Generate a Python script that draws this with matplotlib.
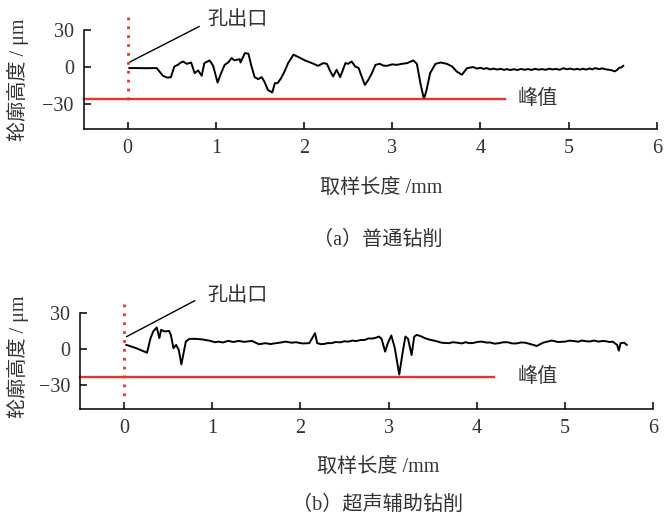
import numpy as np
import matplotlib
matplotlib.use("Agg")
import matplotlib.pyplot as plt

plt.rcParams['font.family'] = ['Liberation Serif', 'Noto Sans CJK SC']
plt.rcParams['axes.unicode_minus'] = True

# (a) conventional drilling profile, x in mm, height in um
x_a = [0.02, 0.10, 0.20, 0.33, 0.36, 0.40, 0.45, 0.49, 0.53, 0.57, 0.60, 0.63, 0.67,
       0.72, 0.76, 0.80, 0.84, 0.87, 0.93, 0.97, 1.02, 1.06, 1.10, 1.14, 1.18, 1.21,
       1.27, 1.28, 1.33, 1.37, 1.40, 1.44, 1.48, 1.52, 1.55, 1.59, 1.64, 1.67, 1.70,
       1.74, 1.78, 1.82, 1.88, 1.94, 2.01, 2.09, 2.16, 2.22, 2.26, 2.29, 2.33, 2.37,
       2.41, 2.47, 2.50, 2.54, 2.58, 2.62, 2.64, 2.69, 2.73, 2.77, 2.81, 2.86, 2.90,
       2.94, 3.00, 3.05, 3.11, 3.17, 3.24, 3.28, 3.32, 3.36, 3.39, 3.43, 3.49, 3.55,
       3.62, 3.68, 3.73, 3.79, 3.85, 3.92, 3.96, 4.00, 4.04, 4.07, 4.11, 4.15, 4.19,
       4.23, 4.27, 4.30, 4.34, 4.38, 4.42, 4.46, 4.50, 4.54, 4.58, 4.62, 4.66, 4.70,
       4.74, 4.78, 4.82, 4.86, 4.90, 4.94, 4.98, 5.02, 5.06, 5.10, 5.13, 5.16, 5.20,
       5.24, 5.27, 5.30, 5.35, 5.38, 5.42, 5.46, 5.49, 5.52, 5.55, 5.57, 5.60, 5.62]
y_a = [-0.8, -0.8, -0.9, -0.8, -3.5, -7.0, -8.5, -8.2, 0.5, 1.8, 3.5, 4.5, 2.6,
       3.7, -4.9, -2.7, -7.0, 3.2, 5.4, 1.0, -12.5, -4.9, 1.8, 3.7, 7.3, 5.4,
       6.4, 3.7, 11.3, 10.8, 1.8, -8.1, -9.7, -8.1, -11.6, -18.4, -20.5, -13.0, -13.0,
       -9.0, -3.5, 3.2, 10.0, 8.0, 5.4, 3.2, 1.0, 3.2, 2.6, -2.2, -7.6, -2.2,
       -8.1, 3.2, 2.6, 4.5, 0.5, -0.8, -4.9, -14.4, -10.3, -4.9, 1.8, 2.6, 1.2,
       1.0, 2.2, 1.8, 2.6, 3.2, 5.4, 2.6, -13.0, -26.0, -18.4, -4.9, 2.6, 3.7,
       2.6, 0.5, -3.5, -6.2, -0.8, 0.0, -1.2, -0.6, -1.5, -0.8, -1.9, -1.2, -2.0,
       -1.4, -2.3, -1.6, -2.4, -1.7, -2.4, -1.5, -2.2, -1.6, -2.3, -1.4, -2.1, -1.6,
       -2.2, -1.3, -1.9, -1.5, -2.2, -0.9, -1.8, -1.2, -2.0, -1.4, -2.1, -1.3, -2.0,
       -1.1, -1.9, -0.8, -1.7, -1.0, -1.8, -2.2, -2.6, -3.5, -2.4, -0.8, -0.2, 1.0]

# (b) ultrasonic assisted drilling profile
x_b = [0.025, 0.14, 0.26, 0.30, 0.33, 0.37, 0.40, 0.42, 0.46, 0.51, 0.53, 0.56, 0.59,
       0.62, 0.65, 0.67, 0.70, 0.74, 0.81, 0.89, 0.98, 1.03, 1.07, 1.12, 1.18, 1.24,
       1.30, 1.36, 1.45, 1.53, 1.60, 1.66, 1.72, 1.78, 1.83, 1.90, 1.95, 2.02, 2.10,
       2.165, 2.19, 2.23, 2.27, 2.31, 2.35, 2.40, 2.45, 2.50, 2.54, 2.59, 2.63, 2.68,
       2.73, 2.77, 2.81, 2.85, 2.89, 2.92, 2.96, 2.99, 3.03, 3.07, 3.12, 3.16, 3.19,
       3.22, 3.26, 3.29, 3.32, 3.37, 3.41, 3.47, 3.53, 3.60, 3.68, 3.73, 3.78, 3.83,
       3.87, 3.92, 3.96, 4.01, 4.06, 4.11, 4.15, 4.20, 4.25, 4.30, 4.35, 4.40, 4.45,
       4.50, 4.55, 4.62, 4.68, 4.75, 4.85, 4.92, 5.00, 5.05, 5.10, 5.15, 5.19, 5.24,
       5.28, 5.33, 5.38, 5.42, 5.46, 5.50, 5.54, 5.59, 5.61, 5.63, 5.67, 5.70]
y_b = [3.4, 0.6, -3.1, 9.0, 14.5, 17.9, 9.0, 15.9, 14.5, 15.0, 11.7, 0.6, 3.4,
       -0.8, -12.8, -5.0, 6.1, 8.4, 8.4, 7.9, 6.7, 5.6, 6.1, 5.4, 6.7, 5.8,
       6.7, 5.9, 6.7, 3.9, 4.8, 4.1, 4.8, 5.4, 6.1, 5.2, 5.6, 4.6, 4.8,
       13.1, 4.8, 4.0, 4.2, 4.9, 4.8, 5.8, 5.5, 6.4, 6.1, 7.0, 6.5, 7.4,
       7.5, 8.8, 8.6, 9.2, 10.3, 8.4, -2.2, 4.8, 11.2, 0.6, -21.2, -2.2, 10.3,
       8.4, -5.0, 10.3, 11.7, 10.4, 9.0, 7.6, 6.7, 5.2, 4.8, 5.6, 5.2, 4.6,
       5.6, 4.8, 5.0, 5.9, 6.1, 5.3, 5.4, 4.4, 4.8, 5.6, 5.6, 4.6, 4.6,
       5.4, 5.2, 3.8, 2.5, 5.2, 7.0, 5.8, 6.1, 6.9, 6.6, 6.0, 7.0, 6.4,
       6.2, 7.0, 6.1, 6.6, 6.5, 5.8, 6.1, 3.4, -1.4, 4.8, 5.2, 3.4]

peak_a = -26.0
peak_b = -23.2
x_ticks = [0, 1, 2, 3, 4, 5, 6]
y_ticks = [-30, 0, 30]

red = "#e8342e"
txt = "#333333"

fig = plt.figure(figsize=(6.65, 5.16), dpi=100)
ax_a = fig.add_axes([0.1256, 0.750, 0.862, 0.192])
ax_b = fig.add_axes([0.1203, 0.2068, 0.862, 0.187])


def style_axis(ax):
    ax.spines["top"].set_visible(False)  # no frame on top
    ax.spines["right"].set_visible(False)  # no frame on the right
    for s in ["left", "bottom"]:
        ax.spines[s].set_linewidth(1.1)
    ax.set_xlim(-0.5, 6)
    ax.set_ylim(-50, 30)
    ax.set_xticks(x_ticks)
    ax.set_yticks(y_ticks)
    ax.tick_params(direction="in", length=5, width=1.1, pad=7,
                   labelsize=14.5, labelcolor=txt)


def draw_panel(ax, xs, ys, peak, peak_end, vtop, vbot, ann, note_xy, peak_x):
    style_axis(ax)
    ax.plot(xs, ys, color="black", lw=1.4, solid_joinstyle="round")
    ax.plot([-0.5, peak_end], [peak, peak], color=red, lw=1.7, clip_on=False)
    ax.plot([0, 0], [vtop, vbot], color=red, lw=2, linestyle=(0, (1, 2.2)),
            clip_on=False)
    ax.plot(ann[0], ann[1], color="black", lw=1, clip_on=False)
    ax.text(note_xy[0], note_xy[1], "孔出口", fontsize=14.5, color=txt,
            ha="left", va="center", clip_on=False)
    ax.text(peak_x, peak, "峰值", fontsize=14.5, color=txt, ha="left", va="center")


draw_panel(ax_a, x_a, y_a, peak_a, 4.28, 40.5, -29,
           ([0.03, 0.81], [4.3, 32.7]), (0.90, 37.5), 4.42)
draw_panel(ax_b, x_b, y_b, peak_b, 4.2, 37, -40,
           ([0.03, 0.80], [10.3, 40.0]), (0.94, 43.6), 4.46)

fig.text(18 / 665, 1 - 80 / 516, "轮廓高度 / μm", rotation=90, fontsize=14.5,
         color=txt, ha="center", va="center")
fig.text(18 / 665, 1 - 357 / 516, "轮廓高度 / μm", rotation=90, fontsize=14.5,
         color=txt, ha="center", va="center")

fig.text(381 / 665, 1 - 188 / 516, "取样长度 /mm", fontsize=14.5, color=txt,
         ha="center", va="center")
fig.text(378 / 665, 1 - 467 / 516, "取样长度 /mm", fontsize=14.5, color=txt,
         ha="center", va="center")

fig.text(378 / 665, 1 - 240 / 516, "（a）普通钻削", fontsize=14.5, color=txt,
         ha="center", va="center")
fig.text(378 / 665, 1 - 505 / 516, "（b）超声辅助钻削", fontsize=14.5, color=txt,
         ha="center", va="center")

plt.savefig("out.png", dpi=100)
